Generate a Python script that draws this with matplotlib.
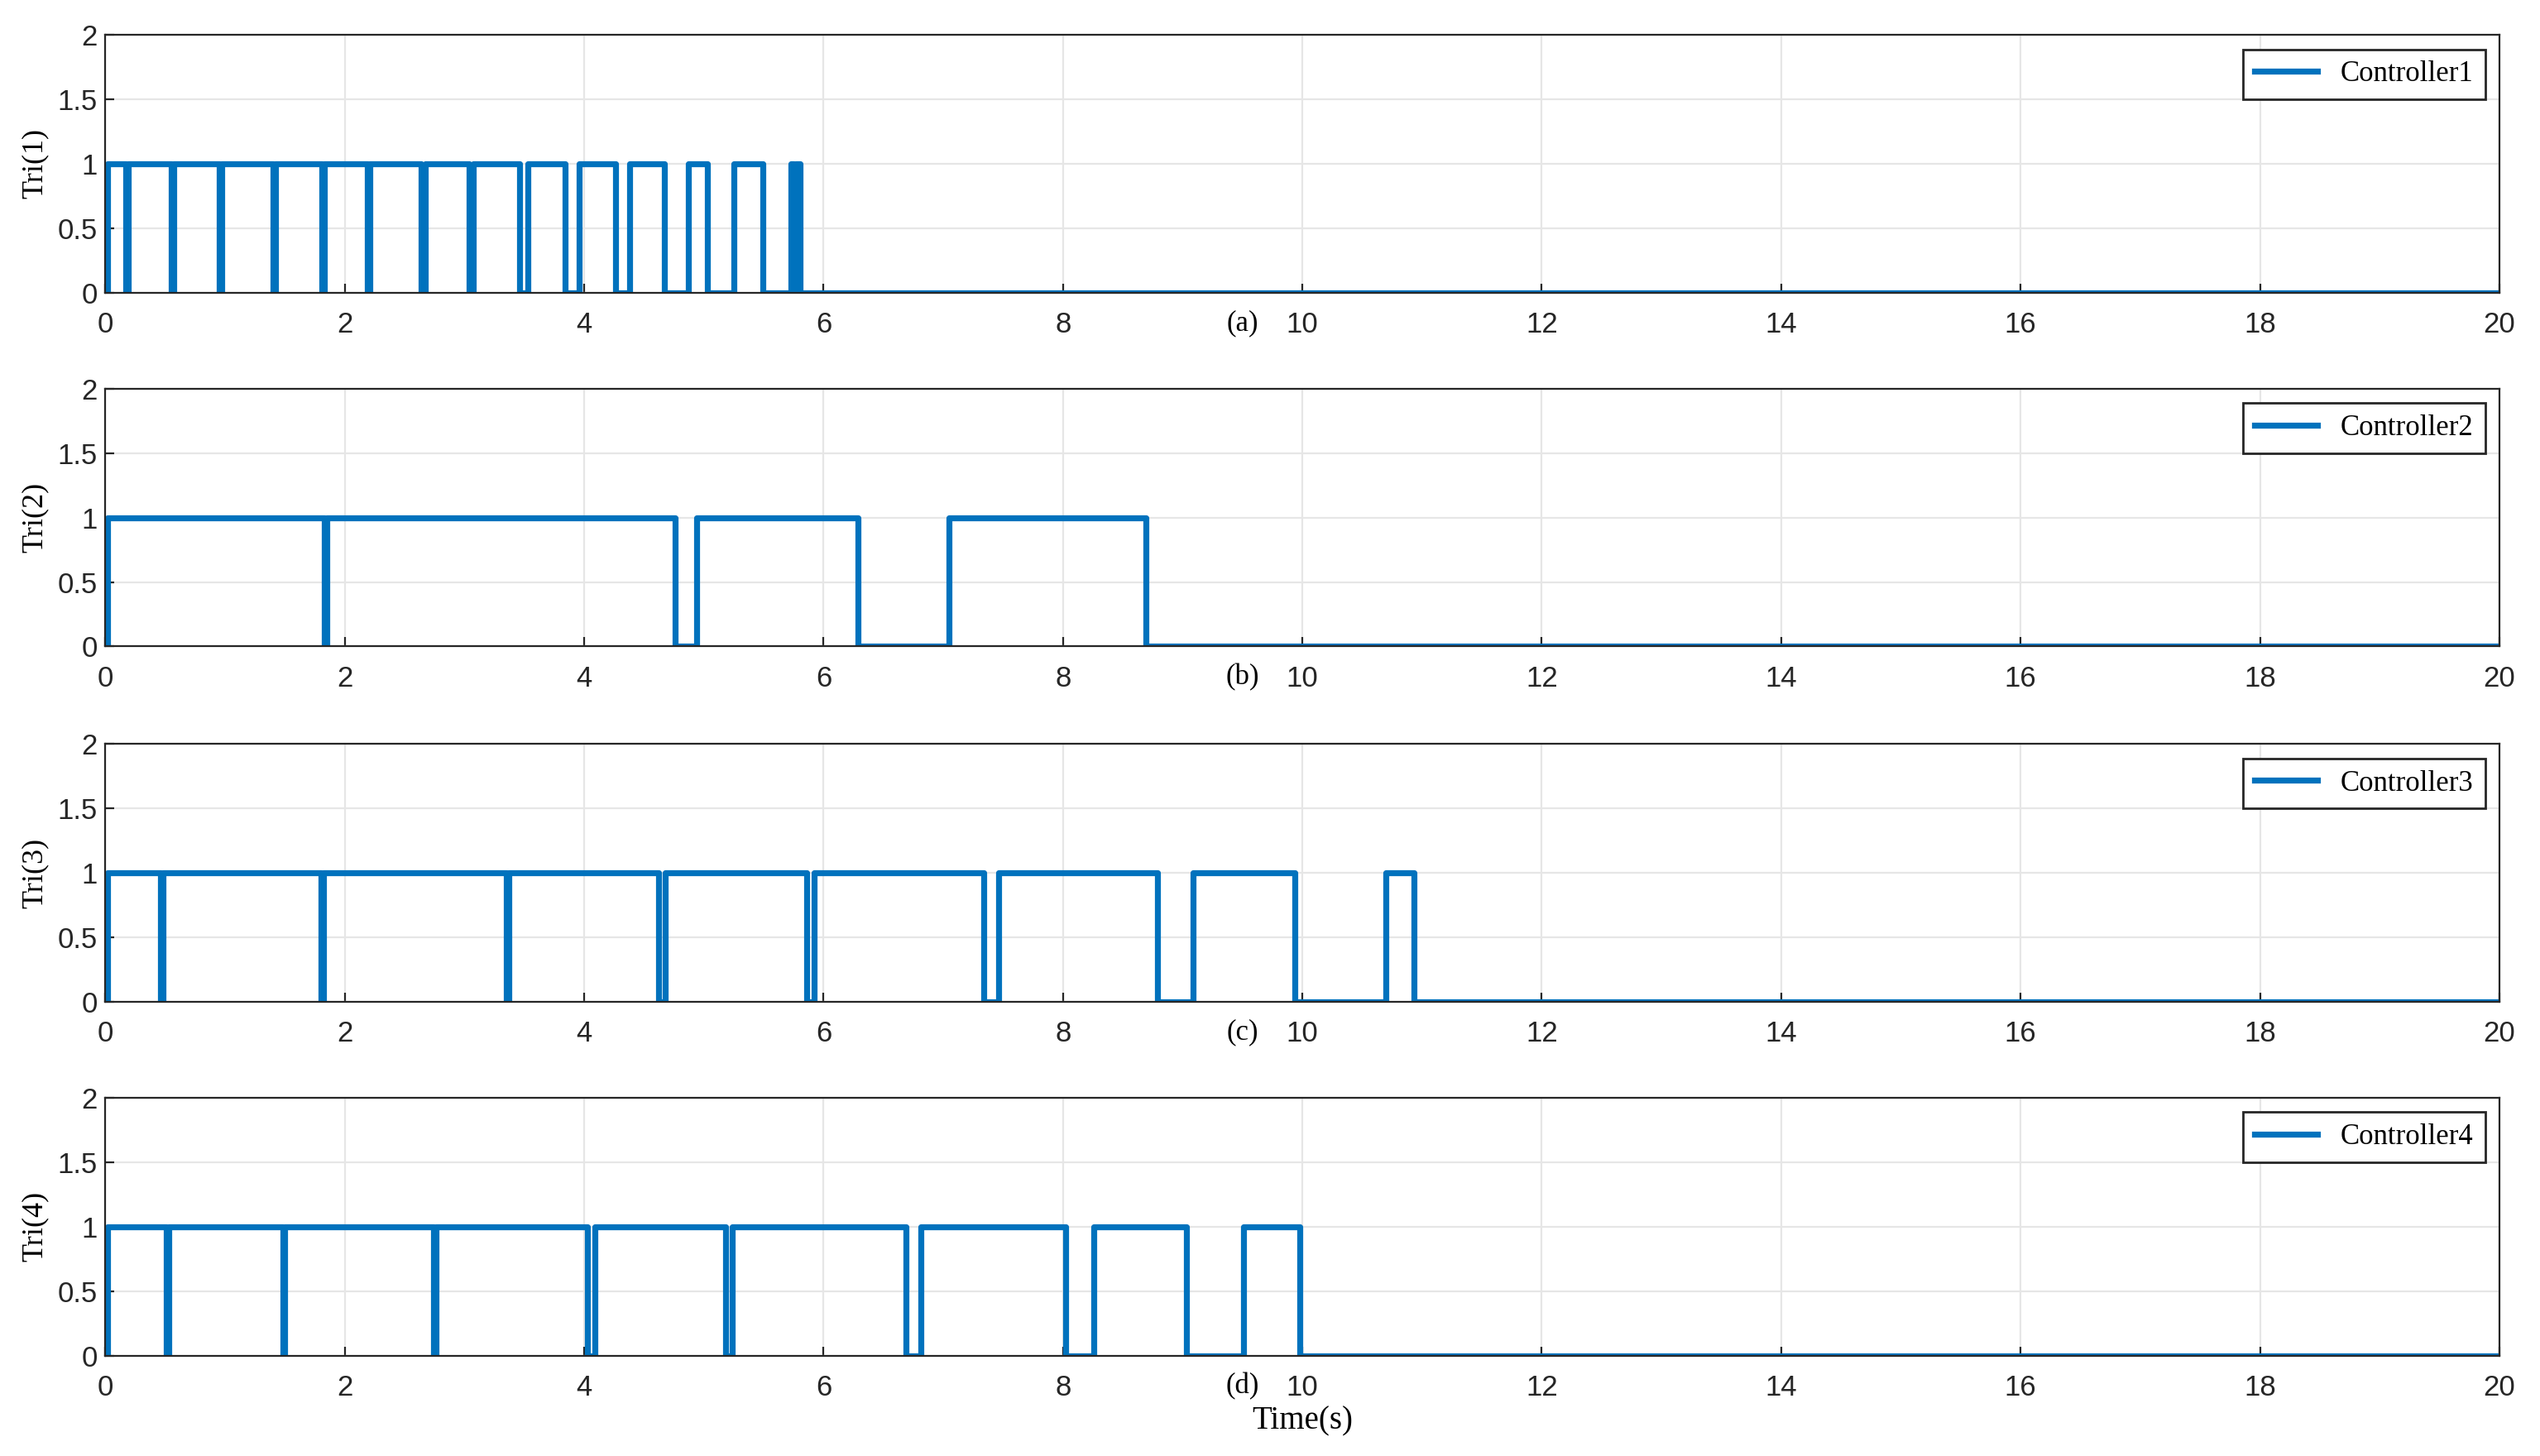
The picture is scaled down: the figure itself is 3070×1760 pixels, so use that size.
import numpy as np
import matplotlib
matplotlib.use("Agg")
import matplotlib.pyplot as plt

plt.rcParams["font.family"] = ["Liberation Serif", "DejaVu Serif"]

# on-intervals (s) of the trigger signals
on1 = [(0.02, 0.17), (0.19, 0.55), (0.57, 0.95), (0.97, 1.40), (1.42, 1.81), (1.83, 2.19),
       (2.21, 2.64), (2.67, 3.04), (3.07, 3.46), (3.53, 3.84), (3.96, 4.26), (4.38, 4.67),
       (4.87, 5.03), (5.25, 5.49), (5.73, 5.75), (5.77, 5.80)]
on2 = [(0.02, 1.83), (1.85, 4.76), (4.94, 6.29), (7.05, 8.69)]
on3 = [(0.02, 0.46), (0.48, 1.80), (1.82, 3.35), (3.37, 4.62), (4.68, 5.86), (5.92, 7.34),
       (7.46, 8.79), (9.09, 9.94), (10.70, 10.93)]
on4 = [(0.02, 0.51), (0.53, 1.48), (1.50, 2.74), (2.76, 4.03), (4.09, 5.18), (5.24, 6.69),
       (6.81, 8.02), (8.26, 9.03), (9.51, 9.98)]
series = [on1, on2, on3, on4]
ylabels = ["Tri(1)", "Tri(2)", "Tri(3)", "Tri(4)"]
legends = ["Controller1", "Controller2", "Controller3", "Controller4"]
tags = ["(a)", "(b)", "(c)", "(d)"]
t_end = 20.0


def step_signal(intervals):
    t, y = [0.0], [0.0]
    for a, b in intervals:
        t += [a, a, b, b]
        y += [0, 1, 1, 0]
    t.append(t_end)
    y.append(0)
    return np.array(t), np.array(y)


fig = plt.figure(figsize=(15.35, 8.8), dpi=200)
left, width, height = 0.0415, 0.9425, 0.177
bottoms = [0.799, 0.556, 0.312, 0.069]

for i, on in enumerate(series):
    ax = fig.add_axes([left, bottoms[i], width, height])
    t, y = step_signal(on)
    ax.plot(t, y, color="#0072BD", lw=2.6, label=legends[i])
    ax.set_xlim(0, 20)
    ax.set_ylim(0, 2)
    ax.set_xticks(np.arange(0, 21, 2))
    ax.set_yticks([0, 0.5, 1, 1.5, 2])
    ax.set_yticklabels(["0", "0.5", "1", "1.5", "2"])
    for lab in ax.get_xticklabels() + ax.get_yticklabels():
        lab.set_fontfamily("Liberation Sans")
    ax.grid(True, color="#e6e6e6", lw=0.8)
    ax.tick_params(direction="in", labelsize=12.5, colors="#262626", length=4)
    ax.tick_params(axis="x", pad=8)
    for s in ax.spines.values():
        s.set_color("#262626")
        s.set_linewidth(0.8)
    ax.set_ylabel(ylabels[i], fontsize=13, labelpad=4)
    ax.legend(loc="upper right", fontsize=12.5, fancybox=False, edgecolor="#262626",
              framealpha=1, handlelength=2.2, borderpad=0.4)
    ax.text(9.5, -0.13, tags[i], ha="center", va="top", fontsize=12.5)
    if i == 3:
        ax.set_xlabel("Time(s)", fontsize=14, labelpad=2)

fig.savefig("out.png", dpi=200)
